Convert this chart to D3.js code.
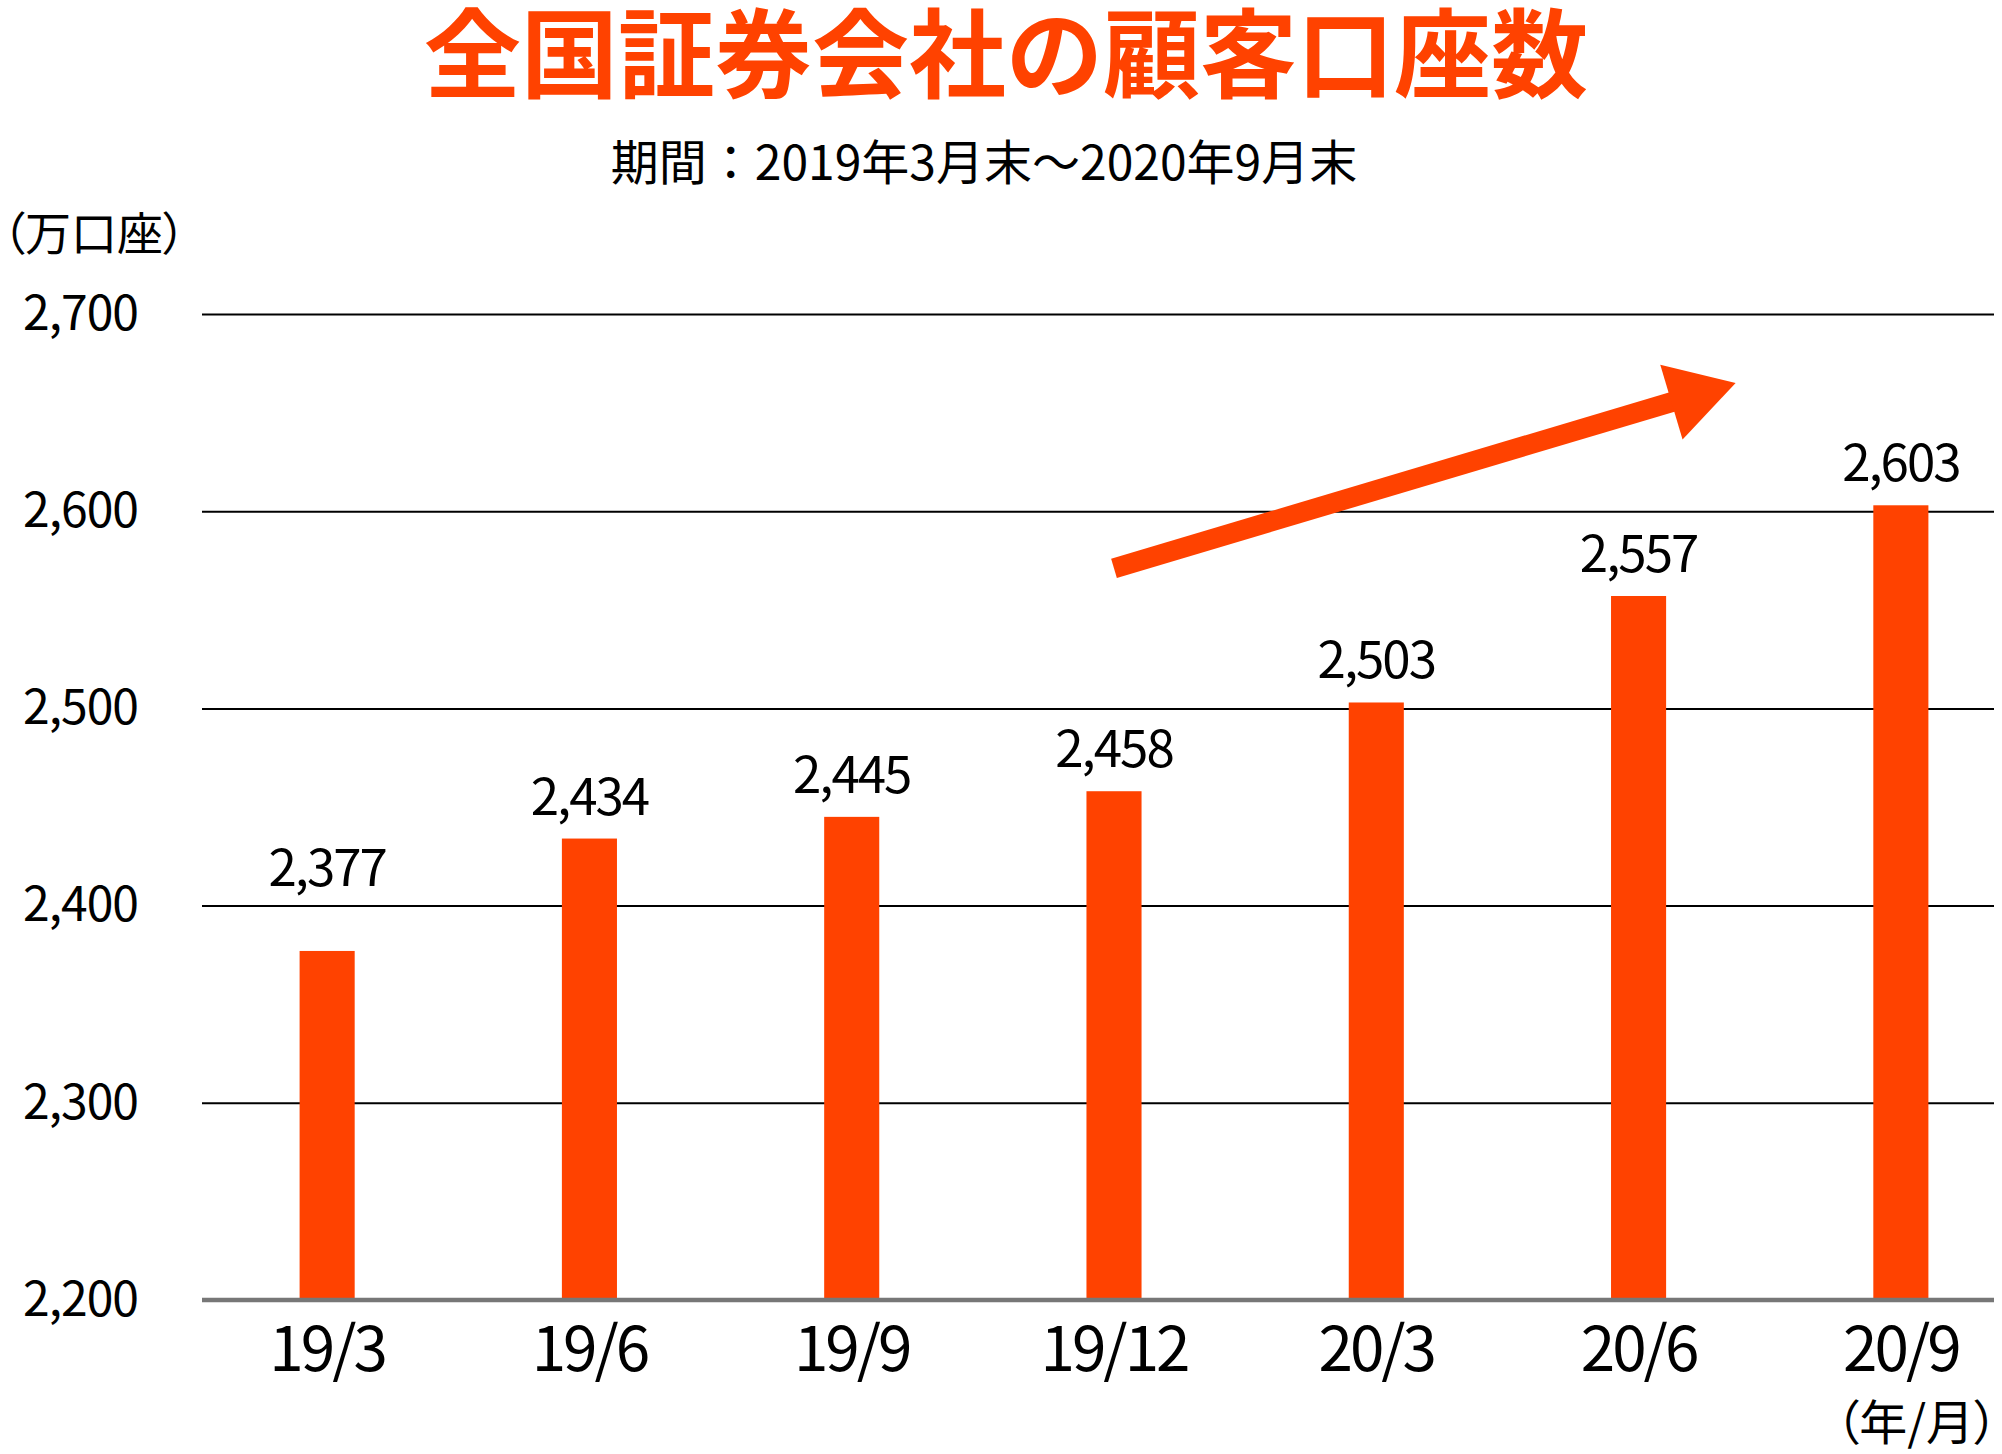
<!DOCTYPE html>
<html lang="ja">
<head>
<meta charset="utf-8">
<script src="https://cdn.jsdelivr.net/npm/d3@7"></script>
<style>
  html, body { margin: 0; padding: 0; background: #fff; }
  svg text { font-family: "Noto Sans CJK JP", "Noto Sans", sans-serif; }
  .palt { font-feature-settings: "palt" 1; }
</style>
</head>
<body>
<div id="chart"></div>
<script>
// datos del grafico
const categories = ["19/3", "19/6", "19/9", "19/12", "20/3", "20/6", "20/9"];
const accounts = [2377, 2434, 2445, 2458, 2503, 2557, 2603];
const yTicks = [2200, 2300, 2400, 2500, 2600, 2700];
const yDomain = [2200, 2700];

const TITLE = "全国証券会社の顧客口座数";
const SUBTITLE = "期間：2019年3月末～2020年9月末";
const Y_UNIT = "（万口座）";
const X_UNIT = "（年/月）";

const WIDTH = 2002;
const HEIGHT = 1454;
const ORANGE = "#ff4200";
const plot = { left: 202, right: 1994, top: 314, bottom: 1300 };

const svg = d3.select("#chart")
  .append("svg")
  .attr("width", WIDTH)
  .attr("height", HEIGHT)
  .attr("viewBox", `0 0 ${WIDTH} ${HEIGHT}`);

const x = d3.scaleBand()
  .domain(categories)
  .range([196, 2032])
  .paddingInner(0.79)
  .paddingOuter(0.395);

const y = d3.scaleLinear()
  .domain(yDomain)
  .range([plot.bottom, plot.top]);

const fmt = d3.format(",");

// titulo y subtitulo
svg.append("text")
  .attr("x", 1006)
  .attr("y", 90)
  .attr("text-anchor", "middle")
  .attr("font-size", 97)
  .attr("font-weight", 700)
  .attr("fill", ORANGE)
  .text(TITLE);

svg.append("text")
  .attr("x", 984)
  .attr("y", 180)
  .attr("text-anchor", "middle")
  .attr("font-size", 48)
  .attr("fill", "#000")
  .text(SUBTITLE);

svg.append("text")
  .attr("class", "palt")
  .attr("x", 2)
  .attr("y", 250)
  .attr("font-size", 46)
  .attr("fill", "#000")
  .text(Y_UNIT);

// lineas de cuadricula + etiquetas del eje Y
const yAxis = d3.axisLeft(y)
  .tickValues(yTicks)
  .tickFormat(fmt)
  .tickSize(-(plot.right - plot.left))
  .tickPadding(64);

const gy = svg.append("g")
  .attr("transform", `translate(${plot.left},0)`)
  .call(yAxis);

gy.select(".domain").remove();
gy.selectAll(".tick line")
  .attr("stroke", "#000")
  .attr("stroke-width", 2)
  .filter(d => d === yDomain[0]).remove();
gy.selectAll(".tick text")
  .attr("font-size", 48)
  .attr("fill", "#000")
  .attr("letter-spacing", -1)
  .attr("font-family", "'Noto Sans CJK JP', sans-serif");

// barras
svg.append("g")
  .selectAll("rect")
  .data(accounts)
  .join("rect")
  .attr("x", (d, i) => x(categories[i]))
  .attr("y", d => y(d))
  .attr("width", x.bandwidth())
  .attr("height", d => y(yDomain[0]) - y(d))
  .attr("fill", ORANGE);

// linea base gris
svg.append("line")
  .attr("x1", plot.left)
  .attr("x2", plot.right)
  .attr("y1", y(yDomain[0]))
  .attr("y2", y(yDomain[0]))
  .attr("stroke", "#777")
  .attr("stroke-width", 4.5);

// etiquetas de valor: si pisan una linea de cuadricula se suben encima de ella
const LABEL_GAP = 24;
const LABEL_CAP = 38;
function labelBaseline(v) {
  let base = y(v) - LABEL_GAP;
  const hit = yTicks.find(t => y(t) < y(v) && y(t) > base - LABEL_CAP - 6);
  if (hit !== undefined) base = y(hit) - 20;
  return base;
}

svg.append("g")
  .selectAll("text")
  .data(accounts)
  .join("text")
  .attr("x", (d, i) => x(categories[i]) + x.bandwidth() / 2)
  .attr("y", d => labelBaseline(d))
  .attr("text-anchor", "middle")
  .attr("font-size", 51)
  .attr("letter-spacing", -2)
  .attr("fill", "#000")
  .text(d => fmt(d));

// etiquetas del eje X
svg.append("g")
  .selectAll("text")
  .data(categories)
  .join("text")
  .attr("x", d => x(d) + x.bandwidth() / 2)
  .attr("y", 1371)
  .attr("text-anchor", "middle")
  .attr("font-size", 62)
  .attr("letter-spacing", -3)
  .attr("fill", "#000")
  .text(d => d);

svg.append("text")
  .attr("class", "palt")
  .attr("x", 1998)
  .attr("y", 1440)
  .attr("text-anchor", "end")
  .attr("font-size", 48)
  .attr("fill", "#000")
  .text(X_UNIT);

// flecha de tendencia
const arrowFrom = [x("19/12") + x.bandwidth() / 2, y(2571)];
const arrowTo = [x("20/6") + x.bandwidth() / 2 + 0.37 * x.step(), y(2665)];
const dx = arrowTo[0] - arrowFrom[0];
const dy = arrowTo[1] - arrowFrom[1];
const len = Math.hypot(dx, dy);
const ux = dx / len, uy = dy / len;
const headLen = 67, headHalf = 39;
const base = [arrowTo[0] - ux * headLen, arrowTo[1] - uy * headLen];

svg.append("line")
  .attr("x1", arrowFrom[0])
  .attr("y1", arrowFrom[1])
  .attr("x2", base[0] + ux * 2)
  .attr("y2", base[1] + uy * 2)
  .attr("stroke", ORANGE)
  .attr("stroke-width", 20);

svg.append("polygon")
  .attr("points", [
    arrowTo,
    [base[0] - uy * headHalf, base[1] + ux * headHalf],
    [base[0] + uy * headHalf, base[1] - ux * headHalf]
  ].map(p => p.join(",")).join(" "))
  .attr("fill", ORANGE);
</script>
</body>
</html>
